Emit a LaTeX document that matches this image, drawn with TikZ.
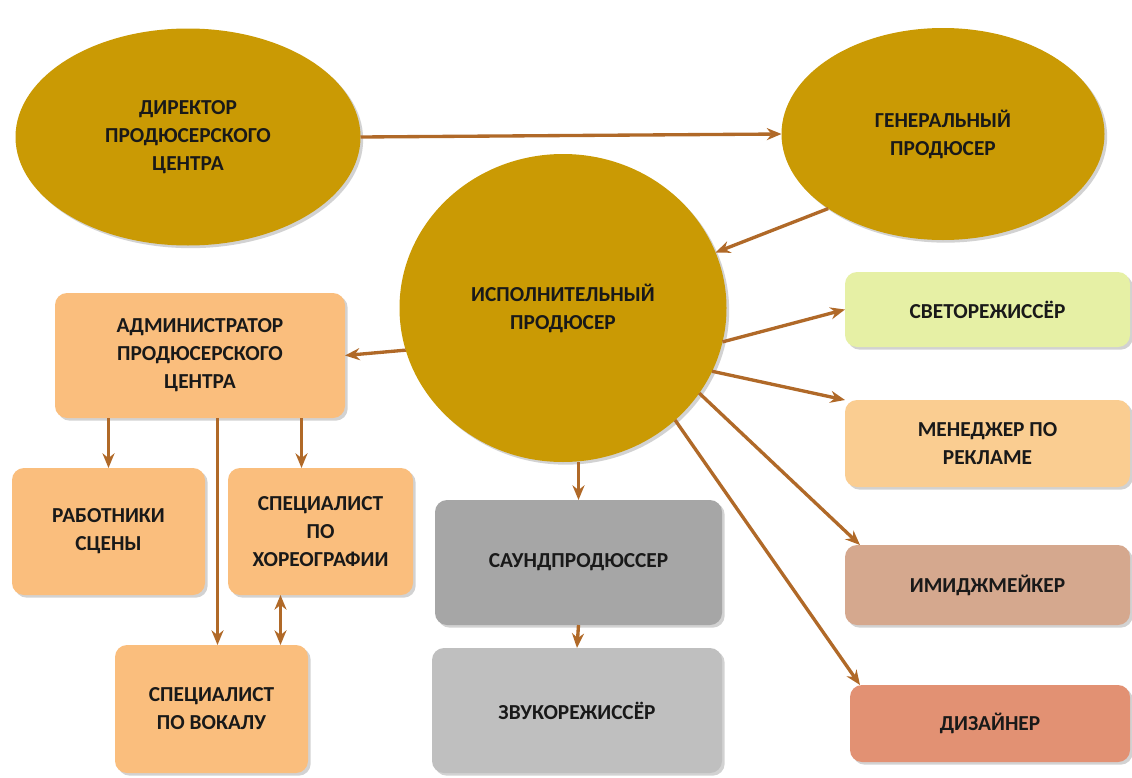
\documentclass[tikz,border=0pt]{standalone}
\usepackage{fontspec}
\setmainfont{Carlito}
\usetikzlibrary{shapes.geometric,arrows.meta,calc,shadows}

\definecolor{gold}{RGB}{202,154,4}
\definecolor{orangebox}{RGB}{250,190,125}
\definecolor{lightgreen}{RGB}{230,240,165}
\definecolor{peach}{RGB}{250,205,145}
\definecolor{tan}{RGB}{213,168,142}
\definecolor{salmon}{RGB}{226,145,115}
\definecolor{darkgray}{RGB}{166,166,166}
\definecolor{lightgray}{RGB}{191,191,191}
\definecolor{arrowbrown}{RGB}{176,105,40}

\begin{document}
\begin{tikzpicture}[x=0.75pt,y=-0.75pt,font=\fontsize{16}{21}\selectfont\bfseries]

% Define block styles
\tikzstyle{oval} = [ellipse, fill=gold, inner sep=0pt, outer sep=0pt, align=center, text=black!90, drop shadow={shadow xshift=2pt, shadow yshift=-2pt, opacity=0.35}]
\tikzstyle{card} = [rectangle, rounded corners=9pt, inner sep=0pt, outer sep=0pt, align=center, text=black!90, drop shadow={shadow xshift=2pt, shadow yshift=-2pt, opacity=0.35}]
\tikzstyle{arrow} = [draw=arrowbrown, line width=2.5pt, -{Stealth[length=11pt,width=9pt]}]

\fill[white] (0,0) rectangle (1132,778);
\useasboundingbox (0,0) rectangle (1132,778);

% Define nodes
\node (dir) [oval, minimum width=345*0.75pt, minimum height=217*0.75pt] at (188,137) {ДИРЕКТОР\\ПРОДЮСЕРСКОГО\\ЦЕНТРА};
\node (gen) [oval, minimum width=323*0.75pt, minimum height=212*0.75pt] at (943,134) {ГЕНЕРАЛЬНЫЙ\\ПРОДЮСЕР};
\node (exec) [oval, minimum width=327*0.75pt, minimum height=308*0.75pt] at (563,308) {ИСПОЛНИТЕЛЬНЫЙ\\ПРОДЮСЕР};

\node (admin) [card, fill=orangebox, minimum width=290*0.75pt, minimum height=125*0.75pt] at (200,355.5) {АДМИНИСТРАТОР\\ПРОДЮСЕРСКОГО\\ЦЕНТРА};
\node (stage) [card, fill=orangebox, minimum width=193*0.75pt, minimum height=127*0.75pt] at (108.5,531.5) {РАБОТНИКИ\\СЦЕНЫ};
\node (choreo) [card, fill=orangebox, minimum width=185*0.75pt, minimum height=127*0.75pt] at (320.5,531.5) {СПЕЦИАЛИСТ\\ПО\\ХОРЕОГРАФИИ};
\node (vocal) [card, fill=orangebox, minimum width=193*0.75pt, minimum height=128*0.75pt] at (211.5,709) {СПЕЦИАЛИСТ\\ПО ВОКАЛУ};

\node (sound) [card, fill=darkgray, minimum width=287*0.75pt, minimum height=125*0.75pt] at (578.5,562.5) {САУНДПРОДЮССЕР};
\node (engineer) [card, fill=lightgray, minimum width=290*0.75pt, minimum height=125*0.75pt] at (577,710.5) {ЗВУКОРЕЖИССЁР};

\node (light) [card, fill=lightgreen, minimum width=285*0.75pt, minimum height=75*0.75pt] at (987.5,309.5) {СВЕТОРЕЖИССЁР};
\node (promo) [card, fill=peach, minimum width=285*0.75pt, minimum height=87*0.75pt] at (987.5,443.5) {МЕНЕДЖЕР ПО\\РЕКЛАМЕ};
\node (image) [card, fill=tan, minimum width=285*0.75pt, minimum height=80*0.75pt] at (987.5,585) {ИМИДЖМЕЙКЕР};
\node (design) [card, fill=salmon, minimum width=280*0.75pt, minimum height=77*0.75pt] at (990,723.5) {ДИЗАЙНЕР};

% Draw arrows
\draw [arrow] (dir.east) -- (gen.west);
\draw [arrow] (gen.213) -- (exec.20);
\draw [arrow] (exec.195) -- (admin.east);
\draw [arrow] (exec.348) -- (light.west);
\draw [arrow] (exec.337) -- (promo.north west);
\draw [arrow] (exec.328) -- ($(image.north west)+(15,0)$);
\draw [arrow] (exec.315) -- ($(design.north west)+(10,0)$);
\draw [arrow] (sound.north |- exec.south) -- (sound.north);
\draw [arrow] (sound.south) -- (engineer.north);
\draw [arrow] (stage.north |- admin.south) -- (stage.north);
\draw [arrow] ($(choreo.north |- admin.south)+(-19,0)$) -- ($(choreo.north)+(-19,0)$);
\draw [arrow] ($(vocal.north |- admin.south)+(6,0)$) -- ($(vocal.north)+(6,0)$);
\draw [arrow, {Stealth[length=11pt,width=9pt]}-{Stealth[length=11pt,width=9pt]}] ($(choreo.south)+(-40,0)$) -- ($(vocal.north)+(69,0)$);

\end{tikzpicture}
\end{document}
